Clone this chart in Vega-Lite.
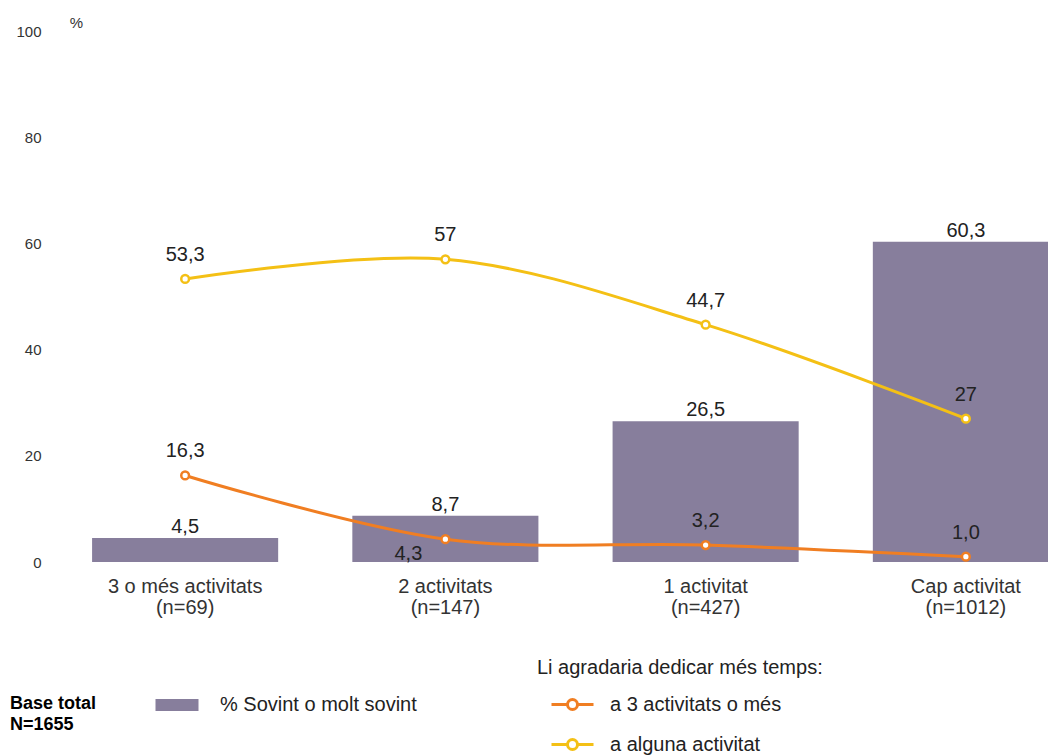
{
  "$schema": "https://vega.github.io/schema/vega-lite/v6.json",
  "width": 993,
  "height": 531,
  "autosize": {"type": "none"},
  "padding": {"left": 55, "top": 31, "right": 0, "bottom": 194},
  "background": "white",
  "config": {"view": {"stroke": null}, "font": "Liberation Sans"},
  "datasets": {
    "bars": [
      {"cat": "3 o més activitats|(n=69)", "serie": "% Sovint o molt sovint", "pct": 4.5, "label": "4,5"},
      {"cat": "2 activitats|(n=147)", "serie": "% Sovint o molt sovint", "pct": 8.7, "label": "8,7"},
      {"cat": "1 activitat|(n=427)", "serie": "% Sovint o molt sovint", "pct": 26.5, "label": "26,5"},
      {"cat": "Cap activitat|(n=1012)", "serie": "% Sovint o molt sovint", "pct": 60.3, "label": "60,3"}
    ],
    "lines": [
      {"cat": "3 o més activitats|(n=69)", "serie": "a 3 activitats o més", "value": 16.3, "label": "16,3"},
      {"cat": "2 activitats|(n=147)", "serie": "a 3 activitats o més", "value": 4.3, "label": "4,3"},
      {"cat": "1 activitat|(n=427)", "serie": "a 3 activitats o més", "value": 3.2, "label": "3,2"},
      {"cat": "Cap activitat|(n=1012)", "serie": "a 3 activitats o més", "value": 1.0, "label": "1,0"},
      {"cat": "3 o més activitats|(n=69)", "serie": "a alguna activitat", "value": 53.3, "label": "53,3"},
      {"cat": "2 activitats|(n=147)", "serie": "a alguna activitat", "value": 57, "label": "57"},
      {"cat": "1 activitat|(n=427)", "serie": "a alguna activitat", "value": 44.7, "label": "44,7"},
      {"cat": "Cap activitat|(n=1012)", "serie": "a alguna activitat", "value": 27, "label": "27"}
    ]
  },
  "encoding": {
    "x": {
      "field": "cat",
      "type": "nominal",
      "sort": null,
      "scale": {
        "domain": ["3 o més activitats|(n=69)", "2 activitats|(n=147)", "1 activitat|(n=427)", "Cap activitat|(n=1012)"],
        "range": [0, 1041],
        "paddingInner": 0.285,
        "paddingOuter": 0.1425
      },
      "axis": {
        "title": null,
        "domain": false,
        "ticks": false,
        "grid": false,
        "labelAngle": 0,
        "labelExpr": "split(datum.label, '|')",
        "labelFontSize": 20,
        "labelLineHeight": 21,
        "labelColor": "#333333",
        "labelPadding": 14,
        "labelLimit": 0,
        "labelFont": "Liberation Sans"
      }
    }
  },
  "layer": [
    {
      "data": {"name": "bars"},
      "mark": {"type": "bar"},
      "encoding": {
        "y": {
          "field": "pct",
          "type": "quantitative",
          "scale": {"domain": [0, 100], "nice": false},
          "axis": {
            "values": [0, 20, 40, 60, 80, 100],
            "grid": false,
            "domain": false,
            "ticks": false,
            "labelFontSize": 15,
            "labelColor": "#333333",
            "labelPadding": 14,
            "labelFont": "Liberation Sans",
            "title": "%",
            "titleAngle": 0,
            "titleFontSize": 15,
            "titleFontWeight": "normal",
            "titleColor": "#333333",
            "titleX": 21,
            "titleY": -9,
            "titleAlign": "center",
            "titleBaseline": "middle"
          }
        },
        "fill": {
          "field": "serie",
          "type": "nominal",
          "scale": {"range": ["#877E9C"]},
          "legend": {
            "orient": "none",
            "legendX": -45,
            "legendY": 664,
            "title": ["Base total", "N=1655"],
            "titleOrient": "left",
            "titleFontSize": 18,
            "titleFontWeight": "bold",
            "titleColor": "#000000",
            "titleFont": "Liberation Sans",
            "titleLineHeight": 21,
            "titlePadding": 70,
            "titleBaseline": "top",
            "titleAnchor": "start",
            "titleLimit": 0,
            "symbolType": "M-2.15,-0.6H2.15V0.6H-2.15Z",
            "symbolSize": 400,
            "symbolStrokeWidth": 0,
            "symbolOpacity": 1,
            "labelFontSize": 20,
            "labelColor": "#222222",
            "labelOffset": 33,
            "labelLimit": 0,
            "labelFont": "Liberation Sans"
          }
        }
      }
    },
    {
      "data": {"name": "bars"},
      "mark": {"type": "text", "baseline": "alphabetic", "dy": -5, "fontSize": 20, "color": "#222222", "font": "Liberation Sans"},
      "encoding": {
        "y": {"field": "pct", "type": "quantitative"},
        "text": {"field": "label"}
      }
    },
    {
      "data": {"name": "lines"},
      "mark": {"type": "line", "interpolate": "catmull-rom", "strokeWidth": 3},
      "encoding": {
        "y": {"field": "value", "type": "quantitative"},
        "stroke": {
          "field": "serie",
          "type": "nominal",
          "scale": {"domain": ["a 3 activitats o més", "a alguna activitat"], "range": ["#F07E22", "#F4C015"]},
          "legend": {
            "orient": "none",
            "legendX": 482,
            "legendY": 627,
            "title": "Li agradaria dedicar més temps:",
            "titleFontSize": 20,
            "titleFontWeight": "normal",
            "titleColor": "#222222",
            "titleFont": "Liberation Sans",
            "titlePadding": 15,
            "titleLimit": 0,
            "rowPadding": 17,
            "symbolType": "M-2.1,0H-0.5M0.5,0H2.1M-0.5,0A0.5,0.5 0 1,1 0.5,0A0.5,0.5 0 1,1 -0.5,0Z",
            "symbolSize": 400,
            "symbolStrokeWidth": 3,
            "symbolFillColor": "#ffffff",
            "symbolOffset": 24,
            "labelFontSize": 20,
            "labelColor": "#222222",
            "labelOffset": 26,
            "labelLimit": 0,
            "labelFont": "Liberation Sans"
          }
        }
      }
    },
    {
      "data": {"name": "lines"},
      "mark": {"type": "point", "shape": "circle", "filled": true, "fill": "#ffffff", "strokeWidth": 2.5, "size": 60, "opacity": 1},
      "encoding": {
        "y": {"field": "value", "type": "quantitative"},
        "stroke": {"field": "serie", "type": "nominal"}
      }
    },
    {
      "data": {"name": "lines"},
      "transform": [{"filter": "datum.label != '4,3'"}],
      "mark": {"type": "text", "baseline": "alphabetic", "dy": -18, "fontSize": 20, "color": "#222222", "font": "Liberation Sans"},
      "encoding": {
        "y": {"field": "value", "type": "quantitative"},
        "text": {"field": "label"}
      }
    },
    {
      "data": {"name": "lines"},
      "transform": [{"filter": "datum.label == '4,3'"}],
      "mark": {"type": "text", "baseline": "alphabetic", "dx": -37, "dy": 21, "fontSize": 20, "color": "#222222", "font": "Liberation Sans"},
      "encoding": {
        "y": {"field": "value", "type": "quantitative"},
        "text": {"field": "label"}
      }
    }
  ]
}
